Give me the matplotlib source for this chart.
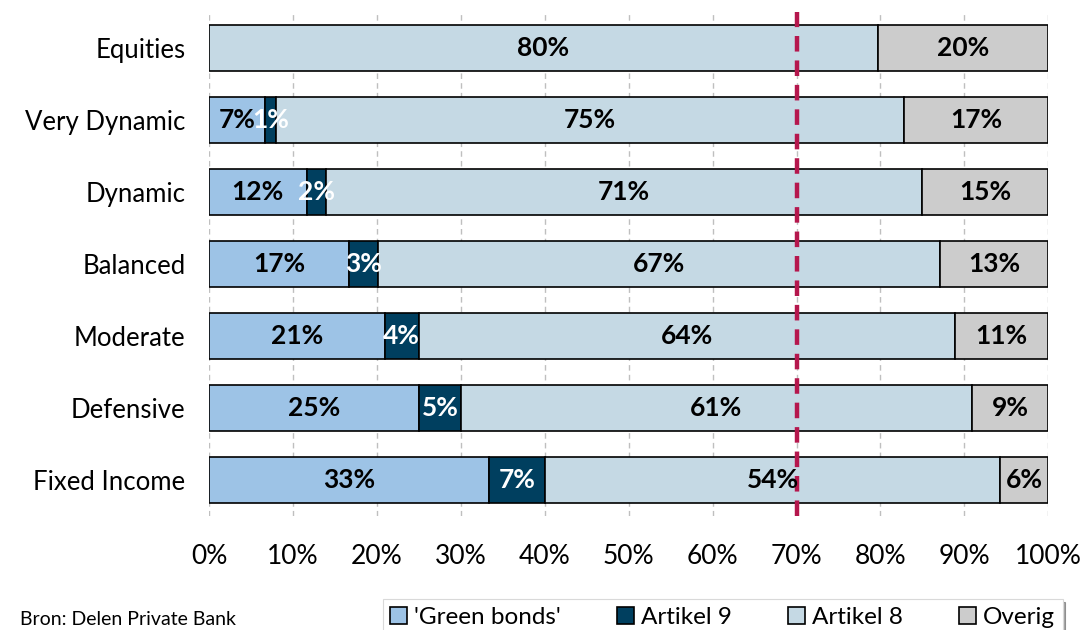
import numpy as np
import matplotlib.pyplot as plt

plt.rcParams['font.family'] = ['Lato', 'DejaVu Sans']

categories = ["Equities", "Very Dynamic", "Dynamic", "Balanced", "Moderate", "Defensive", "Fixed Income"]
green_bonds = [0.0, 6.7, 11.6, 16.7, 20.9, 25.0, 33.4]
artikel_9 = [0.0, 1.3, 2.3, 3.4, 4.1, 5.0, 6.6]
artikel_8 = [79.7, 74.8, 71.1, 67.0, 63.9, 60.9, 54.3]
overig = [20.3, 17.2, 15.0, 12.9, 11.1, 9.1, 5.7]
series_names = ["'Green bonds'", "Artikel 9", "Artikel 8", "Overig"]
colors = ["#9DC3E6", "#003F5F", "#C5D9E4", "#CCCCCC"]
text_colors = ["black", "white", "black", "black"]
threshold = 70
xticks = np.arange(0, 101, 10)

fig = plt.figure(figsize=(10.84, 6.3), dpi=100)
ax = fig.add_axes([0.193, 0.181, 0.774, 0.8])

y = np.arange(len(categories))
left = np.zeros(len(categories))
for vals, name, c, tc in zip([green_bonds, artikel_9, artikel_8, overig], series_names, colors, text_colors):
    vals = np.array(vals)
    ax.barh(y, vals, left=left, height=0.64, color=c, edgecolor="black", linewidth=1.2, label=name, zorder=3)
    for yi, l, v in zip(y, left, vals):
        if v > 0:
            ax.text(l + v / 2, yi, f"{v:.0f}%", ha="center", va="center", color=tc,
                    fontsize=19, fontweight="bold", zorder=5)
    left += vals

ax.axvline(threshold, color="#B5174D", linewidth=3.2, linestyle=(0, (3.5, 2)), zorder=4)

ax.set_xlim(0, 100)
ax.set_ylim(len(categories) - 0.5, -0.5)
ax.set_yticks(y)
ax.set_yticklabels(categories, fontsize=18.5)
ax.set_xticks(xticks)
ax.set_xticklabels([f"{t}%" for t in xticks], fontsize=19)
ax.tick_params(axis="y", length=0, pad=17)
ax.tick_params(axis="x", length=0, pad=20)
ax.grid(axis="x", color="#BFBFBF", linestyle=(0, (4, 3)), linewidth=1, zorder=0)
for s in ax.spines.values():
    s.set_visible(False)

leg = fig.legend(loc="lower left", bbox_to_anchor=(0.353, -0.008), ncol=4, fontsize=17.5,
                 frameon=True, shadow=True, fancybox=False, handlelength=0.7, handleheight=0.7,
                 handletextpad=0.3, columnspacing=2.3, borderpad=0.3, borderaxespad=0)
leg.get_frame().set_edgecolor("#D9D9D9")
leg.get_frame().set_linewidth(0.8)

fig.text(0.018, 0.003, "Bron: Delen Private Bank", fontsize=14, va="bottom", ha="left")

fig.savefig("out.png", dpi=100)
